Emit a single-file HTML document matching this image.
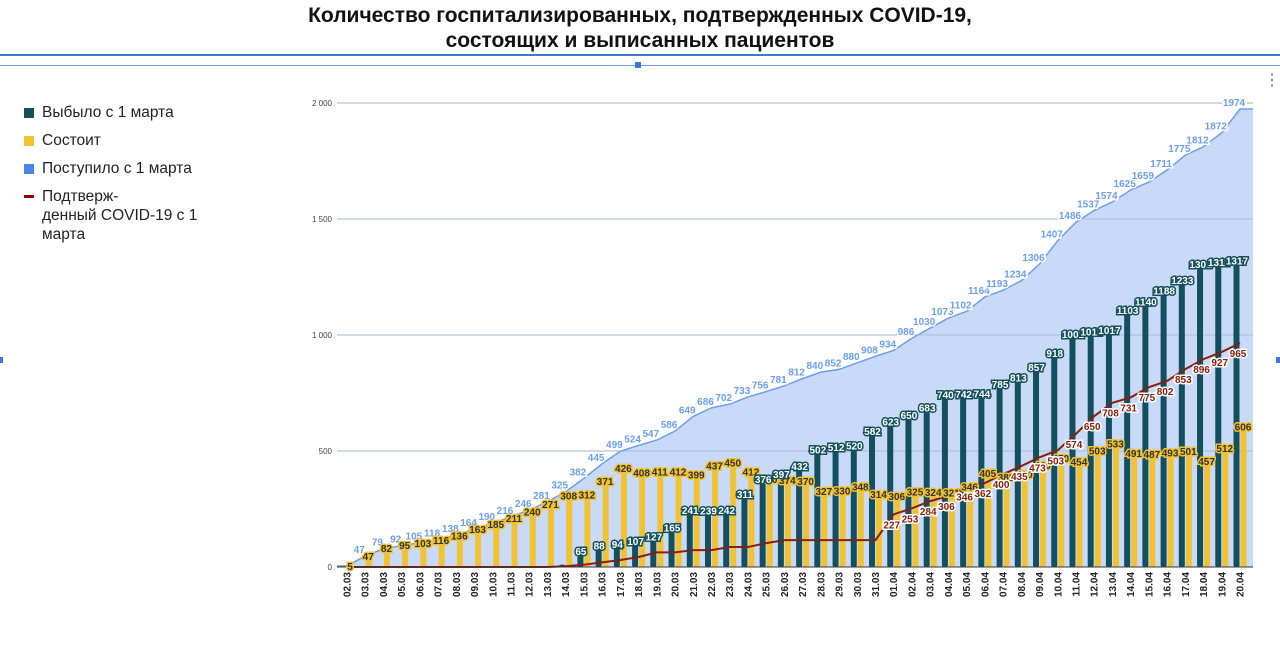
<!DOCTYPE html>
<html><head><meta charset="utf-8">
<style>
body{margin:0;width:1280px;height:654px;background:#fff;overflow:hidden;font-family:"Liberation Sans",sans-serif;position:relative}
.title{position:absolute;left:0;width:1280px;text-align:center;font-weight:bold;font-size:21px;color:#111;line-height:25px}
.leg{position:absolute;left:42px;font-size:15.5px;color:#222;line-height:19px}
.sw{position:absolute;left:-18px;top:5px;width:10px;height:10px}
</style></head><body>
<div class="title" style="top:3px">Количество госпитализированных, подтвержденных COVID-19,<br>состоящих и выписанных пациентов</div>
<div style="position:absolute;left:0;top:54px;width:1280px;height:2px;background:#3c78d8"></div>
<div style="position:absolute;left:0;top:65px;width:1280px;height:1px;background:#6d9eeb"></div>
<div style="position:absolute;left:635px;top:62px;width:6px;height:6px;background:#3c78d8"></div>
<div style="position:absolute;left:-3px;top:357px;width:6px;height:6px;background:#3c78d8"></div>
<div style="position:absolute;left:1276px;top:357px;width:6px;height:6px;background:#3c78d8"></div>
<div style="position:absolute;left:1264px;top:70px;font-size:16px;color:#666">⋮</div>
<div class="leg" style="top:103px"><span class="sw" style="background:#134f5c"></span>Выбыло с 1 марта</div>
<div class="leg" style="top:131px"><span class="sw" style="background:#f1c232"></span>Состоит</div>
<div class="leg" style="top:159px"><span class="sw" style="background:#4a86e8"></span>Поступило с 1 марта</div>
<div class="leg" style="top:187px"><span class="sw" style="background:#980000;height:3px;top:8px"></span>Подтверж-<br>денный COVID-19 с 1<br>марта</div>
<svg id="chart" width="1280" height="654" style="position:absolute;left:0;top:0"></svg>
<script>
const categories=["02.03","03.03","04.03","05.03","06.03","07.03","08.03","09.03","10.03","11.03","12.03","13.03","14.03","15.03","16.03","17.03","18.03","19.03","20.03","21.03","22.03","23.03","24.03","25.03","26.03","27.03","28.03","29.03","30.03","31.03","01.04","02.04","03.04","04.04","05.04","06.04","07.04","08.04","09.04","10.04","11.04","12.04","13.04","14.04","15.04","16.04","17.04","18.04","19.04","20.04"];
const admitted=[5,47,79,92,105,118,138,164,190,216,246,281,325,382,445,499,524,547,586,649,686,702,733,756,781,812,840,852,880,908,934,986,1030,1073,1102,1164,1193,1234,1306,1407,1486,1537,1574,1625,1659,1711,1775,1812,1872,1974];
const current=[5,47,82,95,103,116,136,163,185,211,240,271,308,312,371,426,408,411,412,399,437,450,412,380,374,370,327,330,348,314,306,325,324,321,346,405,389,400,440,470,454,503,533,491,487,493,501,457,512,606];
const discharged=[0,0,0,0,0,0,0,0,0,0,0,0,10,65,88,94,107,127,165,241,239,242,311,376,397,432,502,512,520,582,623,650,683,740,742,744,785,813,857,918,1001,1011,1017,1103,1140,1188,1233,1301,1311,1317];
const confirmed=[0,0,0,0,0,0,0,0,0,0,0,0,3,10,20,30,43,63,63,73,73,86,86,103,116,116,116,116,116,116,227,253,284,306,346,362,400,435,473,503,574,650,708,731,775,802,853,896,927,965];
const yTicks=[0,500,1000,1500,2000];
const yTickLabels=["0","500","1 000","1 500","2 000"];
const svg=document.getElementById('chart');const NS='http://www.w3.org/2000/svg';
const X0=347,STEP=(1240-347)/49,Y0=567,YS=464/2000;
const x=i=>X0+i*STEP, y=v=>Y0-v*YS;
function mk(t,a,p){const e=document.createElementNS(NS,t);for(const k in a)e.setAttribute(k,a[k]);(p||svg).appendChild(e);return e;}
const plotBg=mk('rect',{x:337,y:95,width:916,height:472,fill:'#fff'});


yTicks.forEach((t,i)=>{
 const g=mk('line',{x1:337,x2:1253,y1:y(t),y2:y(t),stroke:'#bbb','stroke-width':1});
 
 
 const tl=mk('text',{x:332,y:y(t)+3,'text-anchor':'end','font-size':8,fill:'#444'});tl.textContent=yTickLabels[i];
 
 
});
let d='M337,'+Y0+' L337,'+y(admitted[0]);
admitted.forEach((v,i)=>{d+=' L'+x(i)+','+y(v);});
d+=' L1253,'+y(admitted[admitted.length-1])+' L1253,'+Y0+' Z';
const area=mk('path',{d:d,fill:'#c9daf8',stroke:'none'});


let ld='M337,'+y(admitted[0]);admitted.forEach((v,i)=>{ld+=' L'+x(i)+','+y(v);});ld+=' L1253,'+y(admitted[admitted.length-1]);
const aline=mk('path',{d:ld,fill:'none',stroke:'#6d9eeb','stroke-width':1.5});


yTicks.forEach(t=>{if(t>0){const g=mk('line',{x1:337,x2:1253,y1:y(t),y2:y(t),stroke:'#9fb0cc','stroke-width':0.8});
 
 }});
categories.forEach((c,i)=>{
 if(discharged[i]>0){const b=mk('rect',{x:x(i)-6.5,y:y(discharged[i]),width:6,height:Y0-y(discharged[i]),fill:'#134f5c',rx:2});
 
 }
 const b2=mk('rect',{x:x(i)+0.5,y:y(current[i]),width:6,height:Y0-y(current[i]),fill:'#f1c232',rx:2});
 
 
});
let cd='';confirmed.forEach((v,i)=>{cd+=(i?' L':'M')+x(i)+','+y(v);});
const cl=mk('path',{d:cd,fill:'none',stroke:'#85200c','stroke-width':2});


const ax=mk('line',{x1:337,x2:1253,y1:Y0,y2:Y0,stroke:'#333','stroke-width':1});


function lab(txt,px,py,fill,halo,name){const t=mk('text',{x:px,y:py,'text-anchor':'middle','font-size':10,'font-weight':'bold',fill:fill,stroke:halo,'stroke-width':3,'paint-order':'stroke'});t.textContent=txt;
 
 }
categories.forEach((c,i)=>{
 if(i>0)lab(admitted[i],x(i)-6,y(admitted[i])-3,'#6d9eeb','#fff','admitted-label');
 lab(current[i],x(i)+3,y(current[i])+4,'#333','#f1c232','current-label');
 if(discharged[i]>50)lab(discharged[i],x(i)-3,y(discharged[i])+3,'#fff','#134f5c','discharged-label');
 if(i>=30)lab(confirmed[i],x(i)-2,y(confirmed[i])+14,'#85200c','#fff','confirmed-label');
 const dt=mk('text',{transform:'translate('+(x(i)+3.5)+',572) rotate(-90)','text-anchor':'end','font-size':10,'font-weight':'bold',fill:'#222'});dt.textContent=c;
 
 
});
</script>
</body></html>
